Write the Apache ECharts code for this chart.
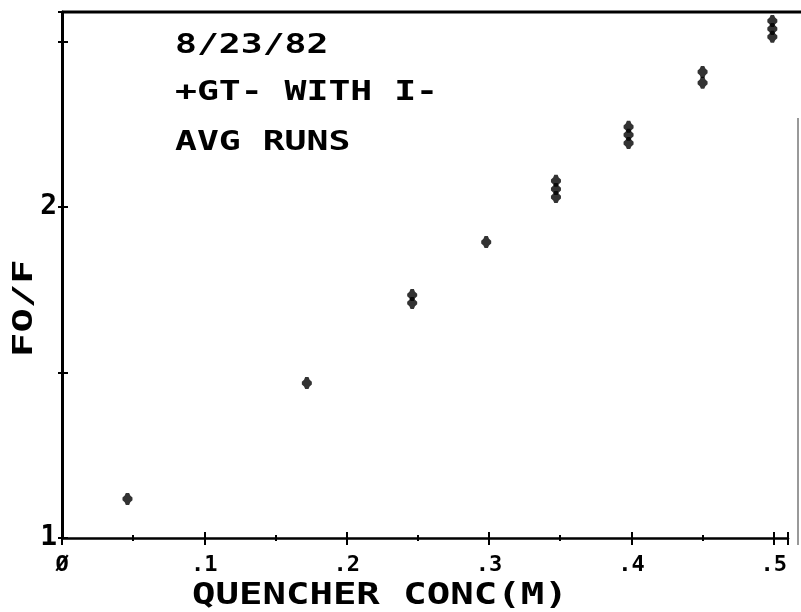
<!DOCTYPE html>
<html>
<head>
<meta charset="utf-8">
<script src="https://cdn.jsdelivr.net/npm/echarts@6/dist/echarts.min.js"></script>
<style>
  html, body { margin: 0; padding: 0; background: #fff; }
  #chart { width: 801px; height: 612px; }
</style>
</head>
<body>
<div id="chart"></div>
<script>
// ---- data ----
const conc = [0.046, 0.172, 0.246, 0.298, 0.347, 0.398, 0.450, 0.499];
const runA = [1.118, 1.468, 1.734, 1.894, 2.079, 2.242, 2.408, 2.562];
const runB = [null, null, 1.710, null, 2.054, 2.218, 2.375, 2.538];
const runC = [null, null, null, null, 2.030, 2.193, null, 2.514];
const xTickLabels = { '0': 'Ø', '0.1': '.1', '0.2': '.2', '0.3': '.3', '0.4': '.4', '0.5': '.5' };
const yTickLabels = { '1': '1', '2': '2' };
const noteLines = ['8/23/82', '+GT- WITH I-', 'AVG RUNS'];
const xTitle = 'QUENCHER CONC(M)';
const yTitle = 'FO/F';

const FONT = "'DejaVu Sans Mono', 'Liberation Mono', monospace";
const X_MIN = 0, X_MAX = 0.51, Y_MIN = 1, Y_MAX = 2.589;

function pairs(ys) {
  const out = [];
  ys.forEach((y, i) => { if (y !== null) out.push([conc[i], y]); });
  return out;
}

const markerPath = 'path://M3,0 H6 L7,2 L9,3.5 V5.5 L7,7 L6,9 H3 L2,7 L0,5.5 V3.5 L2,2 Z';

const chart = echarts.init(document.getElementById('chart'), null, { renderer: 'canvas' });

const xBase = {
  type: 'value', min: X_MIN, max: X_MAX, interval: 0.1, position: 'bottom',
  splitLine: { show: false },
  minorTick: { show: true, splitNumber: 2, length: 3, lineStyle: { color: '#000', width: 2 } }
};
const yBase = {
  type: 'value', min: Y_MIN, max: Y_MAX, interval: 0.5, position: 'left',
  splitLine: { show: false }
};

function note(text, x, y, size, sx, extra) {
  return Object.assign({
    type: 'text', x: x, y: y, scaleX: sx,
    style: { text: text, x: 0, y: 0, font: 'bold ' + size + 'px ' + FONT, fill: '#000', textVerticalAlign: 'top' }
  }, extra || {});
}

const option = {
  backgroundColor: '#fff',
  animation: false,
  grid: { left: 62, right: 13, top: 12, bottom: 74, containLabel: false },
  xAxis: [
    Object.assign({}, xBase, {
      axisLine: { show: true, onZero: false, lineStyle: { color: '#000', width: 2.5 } },
      axisTick: { show: true, inside: false, length: 7, lineStyle: { color: '#000', width: 2 } },
      axisLabel: {
        show: true, margin: 16, color: '#000', fontFamily: FONT, fontSize: 22, fontWeight: 'bold',
        formatter: v => { const k = String(Math.round(v * 10) / 10); return xTickLabels[k] !== undefined ? xTickLabels[k] : ''; }
      }
    }),
    Object.assign({}, xBase, {
      axisLine: { show: false, onZero: false },
      axisTick: { show: true, inside: true, length: 6, lineStyle: { color: '#000', width: 2 } },
      minorTick: { show: true, splitNumber: 2, length: 3, lineStyle: { color: '#000', width: 2 } },
      axisLabel: { show: false }
    })
  ],
  yAxis: [
    Object.assign({}, yBase, {
      axisLine: { show: true, onZero: false, lineStyle: { color: '#000', width: 3 } },
      axisTick: { show: true, inside: false, length: 4, lineStyle: { color: '#000', width: 2 } },
      axisLabel: {
        show: true, margin: 5, color: '#000', fontFamily: FONT, fontSize: 28, fontWeight: 'bold',
        formatter: v => { const k = String(v); return yTickLabels[k] !== undefined ? yTickLabels[k] : ''; }
      }
    }),
    Object.assign({}, yBase, {
      axisLine: { show: false, onZero: false },
      axisTick: { show: true, inside: true, length: 6, lineStyle: { color: '#000', width: 2 } },
      axisLabel: { show: false }
    })
  ],
  graphic: [
    { type: 'line', shape: { x1: 62, y1: 12, x2: 801, y2: 12 }, style: { stroke: '#000', lineWidth: 3 } },
    { type: 'line', shape: { x1: 798, y1: 118, x2: 798, y2: 545 }, style: { stroke: '#777', lineWidth: 1.5 } },
    note(noteLines[0], 175, 33, 26, 1.4),
    note(noteLines[1], 175, 80, 26, 1.4),
    note(noteLines[2], 175, 130, 26, 1.4),
    note(xTitle, 192, 581, 30, 1.3),
    note(yTitle, 11, 357, 27, 1.5, { rotation: Math.PI / 2 })
  ],
  series: [runA, runB, runC].map((r, i) => ({
    type: 'scatter', name: 'run' + (i + 1), xAxisIndex: 0, yAxisIndex: 0,
    data: pairs(r), symbol: markerPath, symbolSize: [10, 12],
    itemStyle: { color: '#000' }, silent: true
  }))
};
chart.setOption(option);
</script>
</body>
</html>
